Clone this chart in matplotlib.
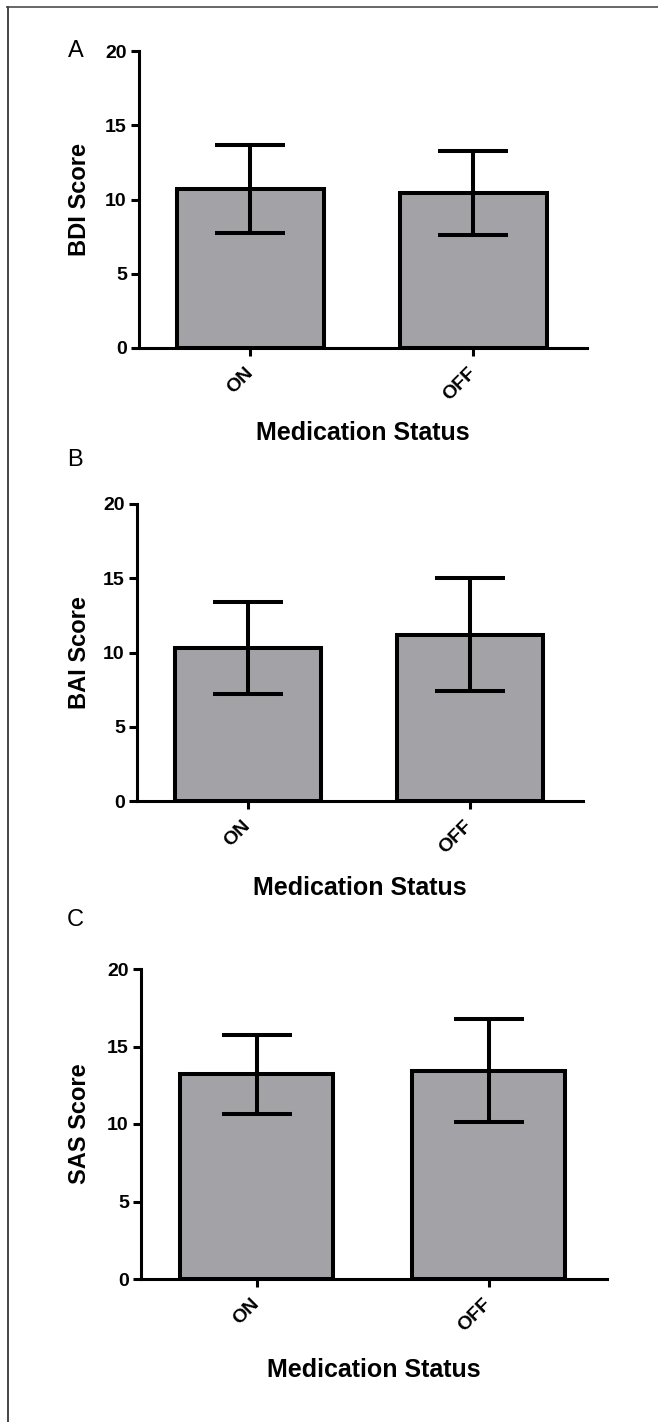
import matplotlib
matplotlib.use('Agg')
import matplotlib.pyplot as plt
from matplotlib.lines import Line2D

plt.rcParams['font.family'] = ['Liberation Sans', 'DejaVu Sans']

# data
status = ['ON', 'OFF']

bdi_mean = [10.7, 10.45]
bdi_low = [7.75, 7.6]
bdi_high = [13.65, 13.25]

bai_mean = [10.3, 11.2]
bai_low = [7.2, 7.4]
bai_high = [13.4, 15.05]

sas_mean = [13.25, 13.45]
sas_low = [10.65, 10.1]
sas_high = [15.75, 16.75]

yticks = [0, 5, 10, 15, 20]

W, H = 658, 1422
fig = plt.figure(figsize=(W / 100, H / 100), dpi=100)

BAR_COLOR = '#a3a2a7'


def px_axes(left, right, top, bottom):
	# axes rectangle given in pixels of the image
	return fig.add_axes([left / W, 1 - bottom / H, (right - left) / W, (bottom - top) / H])


def panel(ax, means, low, high, ylab, letter, letter_xy, xlab_y):
	x = list(range(len(status)))
	ax.bar(x, means, width=0.66, color=BAR_COLOR, edgecolor='black',
			linewidth=2.9, zorder=2)
	yerr = [[m - l for m, l in zip(means, low)], [h - m for m, h in zip(means, high)]]
	ax.errorbar(x, means, yerr=yerr, fmt='none', ecolor='black', elinewidth=2.9,
			capsize=25, capthick=2.9, zorder=3)
	ax.set_xlim(-0.5, 1.51)
	ax.set_ylim(0, 20)
	ax.set_yticks(yticks)
	ax.set_yticklabels([str(t) for t in yticks], fontsize=14, fontweight='bold')
	ax.set_xticks(x)
	ax.set_xticklabels(status, fontsize=14, fontweight='bold', rotation=45,
			ha='right', va='center', rotation_mode='anchor')
	ax.tick_params(axis='both', direction='out', length=5.8, width=2.2, pad=3)
	ax.tick_params(axis='x', pad=10)
	for s in ['top', 'right']:
		ax.spines[s].set_visible(False)
	for s in ['left', 'bottom']:
		ax.spines[s].set_linewidth(2.2)
	ax.spines['left'].set_zorder(4)
	bb = ax.get_position()
	# y label, centred at about x=80 px
	fig.text(80 / W, bb.y0 + bb.height / 2, ylab, rotation=90, ha='center',
			va='center', fontsize=17, fontweight='bold')
	fig.text(bb.x0 + bb.width / 2, 1 - xlab_y / H, 'Medication Status',
			ha='center', va='center', fontsize=18, fontweight='bold')
	fig.text(letter_xy[0] / W, 1 - letter_xy[1] / H, letter, ha='center',
			va='center', fontsize=17)


ax1 = px_axes(139, 587, 51, 348)
panel(ax1, bdi_mean, bdi_low, bdi_high, 'BDI Score', 'A', (76, 51), 433)

ax2 = px_axes(137, 583, 504, 801)
panel(ax2, bai_mean, bai_low, bai_high, 'BAI Score', 'B', (75, 460), 888)

ax3 = px_axes(141, 607, 969, 1279)
panel(ax3, sas_mean, sas_low, sas_high, 'SAS Score', 'C', (75, 920), 1370)

# thin frame on top and left like the source figure
fig.add_artist(Line2D([7 / W, 1], [1 - 7 / H, 1 - 7 / H], transform=fig.transFigure,
		color='#666666', lw=1.4))
fig.add_artist(Line2D([8 / W, 8 / W], [0, 1 - 7 / H], transform=fig.transFigure,
		color='#444444', lw=1.4))

fig.savefig('out.png', dpi=100)
